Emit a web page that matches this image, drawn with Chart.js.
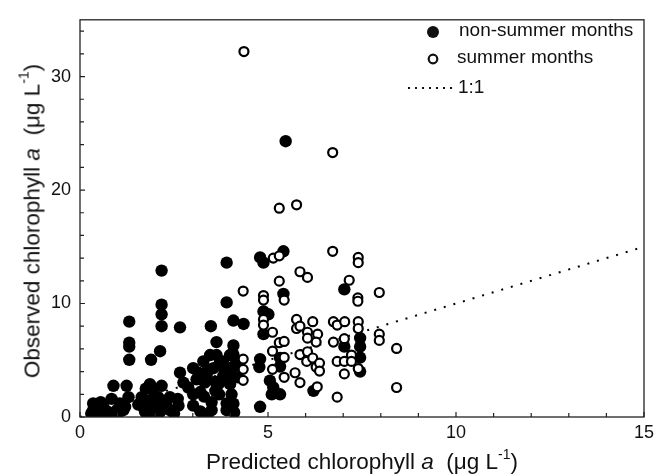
<!DOCTYPE html>
<html>
<head>
<meta charset="utf-8">
<script src="https://cdn.jsdelivr.net/npm/chart.js@4"></script>
<style>
  body { margin: 0; background: #fff; }
  #wrap { position: relative; width: 665px; height: 476px; font-family: "Liberation Sans", Arial, sans-serif; color: #111; }
  #wrap canvas { position: absolute; left: 0; top: 0; }
  .ttl { position: absolute; font-size: 22.5px; white-space: nowrap; line-height: 1; }
  .ttl sup { font-size: 14px; position: relative; top: -2px; }
  #xt { left: 362px; top: 461px; transform: translate(-50%, -50%); }
  #yt { left: 31px; top: 221px; transform: translate(-50%, -50%) rotate(-90deg); }
</style>
</head>
<body>
<div id="wrap">
  <canvas id="grafico" width="665" height="476"></canvas>
  <div class="ttl" id="xt">Predicted chlorophyll <i>a</i>&nbsp; (&mu;g L<sup>-1</sup>)</div>
  <div class="ttl" id="yt">Observed chlorophyll <i>a</i>&nbsp; (&mu;g L<sup>-1</sup>)</div>
</div>
<script>
// dados
const nonSummerX = [2.17, 2.17, 2.17, 2.17, 2.13, 1.89, 1.31, 1.31, 1.31, 1.31, 2.66, 3.48, 3.9, 3.9, 4.08, 4.35,
  4.79, 4.88, 4.79, 0.89, 1.24, 2.66, 3.01, 3.63, 4.08, 4.88, 5.01, 4.88, 4.79,
  0.35, 0.35, 0.49, 0.62, 0.75, 0.84, 0.98, 1.06, 1.15, 1.29, 1.64, 1.68, 1.73, 1.82, 1.86, 1.95, 1.99, 2.08,
  2.13, 2.17, 2.39, 2.39, 2.62, 2.75, 2.88, 3.01, 3.01, 3.10, 3.28, 3.32, 3.37, 3.46, 3.50, 3.50, 3.55, 3.63,
  3.68, 3.72, 3.81, 3.90, 3.90, 3.99, 3.99, 4.08, 4.03,
  5.41, 5.47, 7.03, 5.41, 4.08, 4.77, 5.32, 5.32, 5.05, 5.14, 5.32, 5.10, 6.21, 7.03, 7.45, 7.45, 7.45, 7.45, 4.08,
  0.3, 0.6, 1.0, 1.8, 2.5, 3.4, 4.1, 0.55, 1.55, 1.9, 2.3, 3.2, 3.6, 4.2, 3.15, 3.85,
  3.2, 3.4, 3.6, 3.8, 4.0, 4.2, 3.3, 3.7, 0.5, 0.8, 1.2, 2.0, 2.3, 2.6, 1.75];
const nonSummerY = [12.9, 9.9, 9.05, 8.0, 5.8, 5.04, 8.4, 6.55, 6.2, 5.04, 7.9, 8.0, 13.6, 10.1, 8.5, 8.2,
  14.06, 13.6, 0.9, 2.75, 2.75, 3.9, 4.3, 6.6, 6.3, 9.3, 9.05, 7.3, 5.1,
  1.2, 0.6, 0.45, 0.89, 0.45, 1.6, 0.6, 1.2, 0.6, 1.75, 1.75, 0.89, 0.45, 1.46, 2.89, 2.3, 0.89, 1.75,
  0.45, 2.75, 1.75, 0.6, 1.0, 3.03, 2.6, 2.0, 1.0, 3.32, 4.9, 3.03, 3.75, 5.46, 1.3, 0.6, 4.3, 5.46,
  2.89, 4.75, 3.6, 1.2, 0.6, 5.46, 2.89, 4.45, 2.0,
  14.6, 24.3, 11.25, 10.85, 5.5, 4.4, 5.2, 4.45, 3.2, 2.6, 2.0, 2.0, 2.3, 6.2, 6.96, 6.2, 5.24, 4.0, 1.17,
  0.3, 0.2, 0.25, 0.3, 0.3, 0.25, 0.4, 1.3, 1.1, 0.3, 1.3, 0.5, 2.3, 3.5, 3.9, 4.2,
  2.2, 4.2, 3.1, 4.9, 3.6, 4.8, 1.8, 2.0, 1.0, 0.3, 0.9, 1.2, 0.9, 1.6, 2.5];

const summerX = [4.36, 6.72, 5.3, 5.76, 5.14, 5.30, 6.72, 7.40, 7.40, 5.85, 6.05, 5.30, 4.34, 7.16, 4.88, 4.88,
  5.43, 7.39, 7.39, 7.96, 4.88, 4.88, 5.12, 5.76, 5.76, 5.85, 6.05, 6.19, 6.05, 6.32, 6.28, 6.74, 6.84, 7.04,
  7.03, 6.74, 7.40, 7.40, 7.96, 7.96, 8.42, 8.42, 5.30, 5.43, 5.12, 5.43, 5.85, 6.05, 6.03, 6.19, 6.28, 6.37,
  6.37, 6.84, 7.03, 7.03, 7.22, 7.22, 7.40, 4.34, 4.34, 4.34, 5.12, 5.43, 5.72, 5.85, 6.31, 6.84];
const summerY = [32.2, 23.3, 18.4, 18.7, 14.0, 14.2, 14.6, 14.06, 13.6, 12.8, 12.3, 11.97, 11.1, 12.05, 10.7, 10.3,
  10.3, 10.5, 10.2, 10.97, 8.6, 8.1, 7.47, 8.6, 7.8, 8.0, 7.47, 8.4, 6.95, 7.3, 6.6, 8.4, 8.1, 8.4,
  6.9, 6.6, 8.4, 7.8, 7.3, 6.75, 6.04, 2.6, 6.55, 6.66, 5.8, 5.25, 5.5, 5.75, 4.9, 5.2, 4.4, 4.75,
  4.05, 4.9, 4.9, 3.8, 5.46, 4.9, 4.27, 5.1, 4.2, 3.23, 4.2, 3.5, 3.9, 3.03, 2.66, 1.75];

const lineX = [0, 15];
const lineY = [0, 15];

const legendLabels = ["non-summer months", "summer months", "1:1"];

const toPoints = (xs, ys) => xs.map((x, i) => ({ x: x, y: ys[i] }));

// ticks para dentro, moldura e legenda
const extras = {
  id: "extras",
  afterDraw(chart) {
    const ctx = chart.ctx;
    const a = chart.chartArea;
    const sx = chart.scales.x, sy = chart.scales.y;
    ctx.save();
    ctx.strokeStyle = "#222";
    ctx.lineWidth = 1.3;
    ctx.strokeRect(a.left, a.top, a.right - a.left, a.bottom - a.top);
    ctx.lineWidth = 1.2;
    ctx.beginPath();
    sx.ticks.forEach(t => {
      const px = sx.getPixelForValue(t.value);
      const len = t.value % 5 === 0 ? 5 : 4;
      ctx.moveTo(px, a.bottom);
      ctx.lineTo(px, a.bottom - len);
    });
    sy.ticks.forEach(t => {
      const py = sy.getPixelForValue(t.value);
      const len = t.value % 10 === 0 ? 5 : 4;
      ctx.moveTo(a.left, py);
      ctx.lineTo(a.left + len, py);
    });
    ctx.stroke();

    // legenda
    ctx.font = "19px 'Liberation Sans', Arial, sans-serif";
    ctx.fillStyle = "#111";
    ctx.textBaseline = "middle";
    ctx.beginPath();
    ctx.arc(433, 32, 6, 0, Math.PI * 2);
    ctx.fill();
    ctx.fillText(legendLabels[0], 459, 31);
    ctx.beginPath();
    ctx.arc(433, 59, 4.3, 0, Math.PI * 2);
    ctx.lineWidth = 2.2;
    ctx.strokeStyle = "#111";
    ctx.stroke();
    ctx.fillText(legendLabels[1], 457, 58);
    ctx.beginPath();
    ctx.setLineDash([2, 5]);
    ctx.lineWidth = 2;
    ctx.moveTo(408, 88);
    ctx.lineTo(452, 88);
    ctx.stroke();
    ctx.setLineDash([]);
    ctx.fillText(legendLabels[2], 458, 88);
    ctx.restore();
  }
};

const tickFont = { family: "'Liberation Sans', Arial, sans-serif", size: 18 };

new Chart(document.getElementById("grafico"), {
  type: "scatter",
  data: {
    datasets: [
      {
        label: legendLabels[1],
        data: toPoints(summerX, summerY),
        pointRadius: 4.5,
        pointBorderWidth: 2.2,
        pointBackgroundColor: "#fff",
        pointBorderColor: "#000",
        order: 1
      },
      {
        label: legendLabels[0],
        data: toPoints(nonSummerX, nonSummerY),
        pointRadius: 6.2,
        pointBorderWidth: 0,
        pointBackgroundColor: "#000",
        pointBorderColor: "#000",
        order: 2
      },
      {
        type: "line",
        label: legendLabels[2],
        data: toPoints(lineX, lineY),
        borderColor: "#000",
        borderWidth: 2,
        borderDash: [2, 8],
        pointRadius: 0,
        fill: false,
        order: 3
      }
    ]
  },
  options: {
    responsive: false,
    animation: false,
    layout: { padding: { top: 10, right: 21, left: 0, bottom: 0 } },
    plugins: {
      legend: { display: false },
      tooltip: { enabled: false }
    },
    scales: {
      x: {
        type: "linear",
        min: 0,
        max: 15,
        grid: { display: false, drawTicks: false },
        border: { display: false },
        ticks: {
          stepSize: 1,
          padding: 5,
          color: "#111",
          font: tickFont,
          maxRotation: 0,
          autoSkip: false,
          callback: v => (v % 5 === 0 ? v : "")
        },
        afterFit: s => { s.height = 59; }
      },
      y: {
        type: "linear",
        min: 0,
        max: 35,
        grid: { display: false, drawTicks: false },
        border: { display: false },
        ticks: {
          stepSize: 2,
          includeBounds: false,
          padding: 9,
          color: "#111",
          font: tickFont,
          autoSkip: false,
          callback: v => (v % 10 === 0 ? v : "")
        },
        afterFit: s => { s.width = 80; }
      }
    }
  },
  plugins: [extras]
});
</script>
</body>
</html>
